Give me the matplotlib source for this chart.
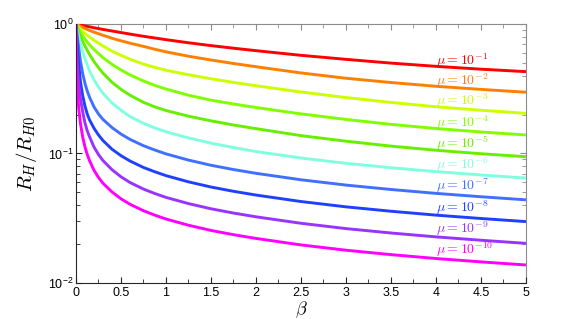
import matplotlib
matplotlib.use('Agg')
import numpy as np
import matplotlib.pyplot as plt
from matplotlib.ticker import MultipleLocator, FormatStrFormatter, LogLocator

beta = [0, 0.005, 0.01, 0.02, 0.03, 0.05, 0.075, 0.1, 0.125, 0.15, 0.2, 0.25, 0.3, 0.4,
        0.5, 0.6, 0.75, 0.875, 1.0, 1.25, 1.5, 1.75, 2.0, 2.5, 3.0, 3.5, 4.0, 4.5, 5.0]

mu_exp = [-1, -2, -3, -4, -5, -6, -7, -8, -9, -10]

# log10(R_H/R_H0) for each mu
log_r_mu1 = [0, -0.0008, -0.0015, -0.003, -0.0045, -0.0075, -0.0113, -0.015, -0.0186, -0.022,
             -0.029, -0.0355, -0.042, -0.054, -0.066, -0.078, -0.095, -0.108, -0.121, -0.145,
             -0.167, -0.187, -0.206, -0.242, -0.273, -0.302, -0.327, -0.349, -0.368]
log_r_mu2 = [0, -0.0018, -0.0036, -0.0072, -0.0107, -0.018, -0.0265, -0.035, -0.0428, -0.05,
             -0.063, -0.075, -0.087, -0.11, -0.13, -0.148, -0.173, -0.195, -0.215, -0.249,
             -0.278, -0.305, -0.330, -0.378, -0.419, -0.452, -0.481, -0.505, -0.527]
log_r_mu3 = [0, -0.004, -0.008, -0.016, -0.024, -0.039, -0.057, -0.073, -0.087, -0.10,
             -0.125, -0.148, -0.17, -0.21, -0.242, -0.272, -0.31, -0.335, -0.357, -0.392,
             -0.423, -0.451, -0.477, -0.525, -0.568, -0.606, -0.639, -0.666, -0.690]
log_r_mu4 = [0, -0.007, -0.014, -0.027, -0.04, -0.065, -0.092, -0.117, -0.139, -0.16,
             -0.196, -0.229, -0.26, -0.312, -0.355, -0.393, -0.44, -0.474, -0.502, -0.55,
             -0.588, -0.618, -0.645, -0.694, -0.737, -0.775, -0.807, -0.834, -0.857]
log_r_mu5 = [0, -0.01, -0.02, -0.04, -0.059, -0.095, -0.135, -0.17, -0.204, -0.235,
             -0.29, -0.337, -0.38, -0.45, -0.505, -0.55, -0.605, -0.64, -0.668, -0.712,
             -0.748, -0.78, -0.808, -0.862, -0.905, -0.943, -0.975, -1.002, -1.025]
log_r_mu6 = [0, -0.018, -0.036, -0.07, -0.1, -0.155, -0.218, -0.27, -0.318, -0.36,
             -0.43, -0.487, -0.535, -0.61, -0.665, -0.715, -0.767, -0.802, -0.832, -0.88,
             -0.92, -0.954, -0.985, -1.035, -1.076, -1.11, -1.14, -1.166, -1.19]
log_r_mu7 = [0, -0.036, -0.07, -0.13, -0.185, -0.29, -0.385, -0.46, -0.518, -0.565,
             -0.64, -0.695, -0.737, -0.80, -0.85, -0.891, -0.94, -0.973, -1.003, -1.051,
             -1.091, -1.124, -1.153, -1.203, -1.244, -1.278, -1.308, -1.334, -1.358]
log_r_mu8 = [0, -0.065, -0.125, -0.225, -0.31, -0.45, -0.555, -0.635, -0.695, -0.74,
             -0.805, -0.857, -0.90, -0.967, -1.017, -1.058, -1.108, -1.141, -1.171, -1.219,
             -1.259, -1.292, -1.321, -1.371, -1.412, -1.446, -1.476, -1.502, -1.526]
log_r_mu9 = [0, -0.15, -0.26, -0.39, -0.47, -0.58, -0.68, -0.765, -0.825, -0.87,
             -0.95, -1.008, -1.055, -1.125, -1.18, -1.224, -1.275, -1.309, -1.339, -1.387,
             -1.427, -1.46, -1.489, -1.539, -1.580, -1.614, -1.644, -1.670, -1.694]
log_r_mu10 = [0, -0.27, -0.40, -0.55, -0.65, -0.77, -0.875, -0.95, -1.008, -1.055,
              -1.13, -1.185, -1.23, -1.297, -1.35, -1.392, -1.442, -1.476, -1.506, -1.554,
              -1.594, -1.627, -1.656, -1.706, -1.747, -1.781, -1.811, -1.837, -1.861]

curves = [log_r_mu1, log_r_mu2, log_r_mu3, log_r_mu4, log_r_mu5,
          log_r_mu6, log_r_mu7, log_r_mu8, log_r_mu9, log_r_mu10]

colors = ['#ff0000', '#ff8000', '#ccff00', '#80ff00', '#66f000',
          '#80ffe0', '#4070ff', '#2040ff', '#9933ff', '#ff00ff']

plt.rcParams['font.family'] = 'Liberation Sans'
plt.rcParams['mathtext.fontset'] = 'custom'
plt.rcParams['mathtext.rm'] = 'Liberation Sans'
plt.rcParams['mathtext.it'] = 'Liberation Sans:italic'

fig = plt.figure(figsize=(5.81, 3.19), dpi=100)
ax = fig.add_axes([0.1308, 0.1129, 0.7745, 0.8119])

for i, (vals, e, c) in enumerate(zip(curves, mu_exp, colors)):
    r = 10 ** np.array(vals)
    ax.plot(beta, r, color=c, lw=2.1, solid_capstyle='butt', solid_joinstyle='round')
    # label sits just above the curve near the right edge
    ax.text(4.0, r[-2] * 10 ** (0.065 + 0.003 * i), r'$\mu = 10^{%d}$' % e, color=c,
            fontsize=10, ha='left', va='center', math_fontfamily='cm')

ax.set_yscale('log')
ax.set_xlim(0, 5)
ax.set_ylim(1e-2, 1)
ax.xaxis.set_major_locator(MultipleLocator(0.5))
ax.xaxis.set_minor_locator(MultipleLocator(0.25))
ax.xaxis.set_major_formatter(FormatStrFormatter('%g'))
ax.yaxis.set_major_locator(LogLocator(base=10, numticks=5))

ax.tick_params(which='both', direction='in', labelsize=9, color='0.15')
ax.tick_params(which='major', length=4)
ax.tick_params(which='minor', length=3)
ax.tick_params(axis='y', which='both', pad=1.5)
ax.tick_params(axis='x', which='both', pad=3)

ax.spines['left'].set_color('0.15')
ax.spines['bottom'].set_color('0.15')
ax.spines['top'].set_visible(False)
ax.spines['right'].set_visible(False)

secx = ax.secondary_xaxis('top')
secx.xaxis.set_major_locator(MultipleLocator(0.5))
secx.xaxis.set_minor_locator(MultipleLocator(0.25))
secx.tick_params(which='both', direction='in', color='0.55', labeltop=False)
secx.tick_params(which='major', length=4)
secx.tick_params(which='minor', length=3)
secx.spines['top'].set_color('0.55')

secy = ax.secondary_yaxis('right')
secy.tick_params(which='both', direction='in', color='0.55', labelright=False)
secy.tick_params(which='major', length=4)
secy.tick_params(which='minor', length=3)
secy.spines['right'].set_color('0.55')

ax.set_xlabel(r'$\beta$', fontsize=13, math_fontfamily='cm')
ax.xaxis.set_label_coords(0.5, -0.062)
ax.set_ylabel(r'$R_H/R_{H0}$', fontsize=15, math_fontfamily='cm', labelpad=7)

fig.savefig('out.png', dpi=100)
